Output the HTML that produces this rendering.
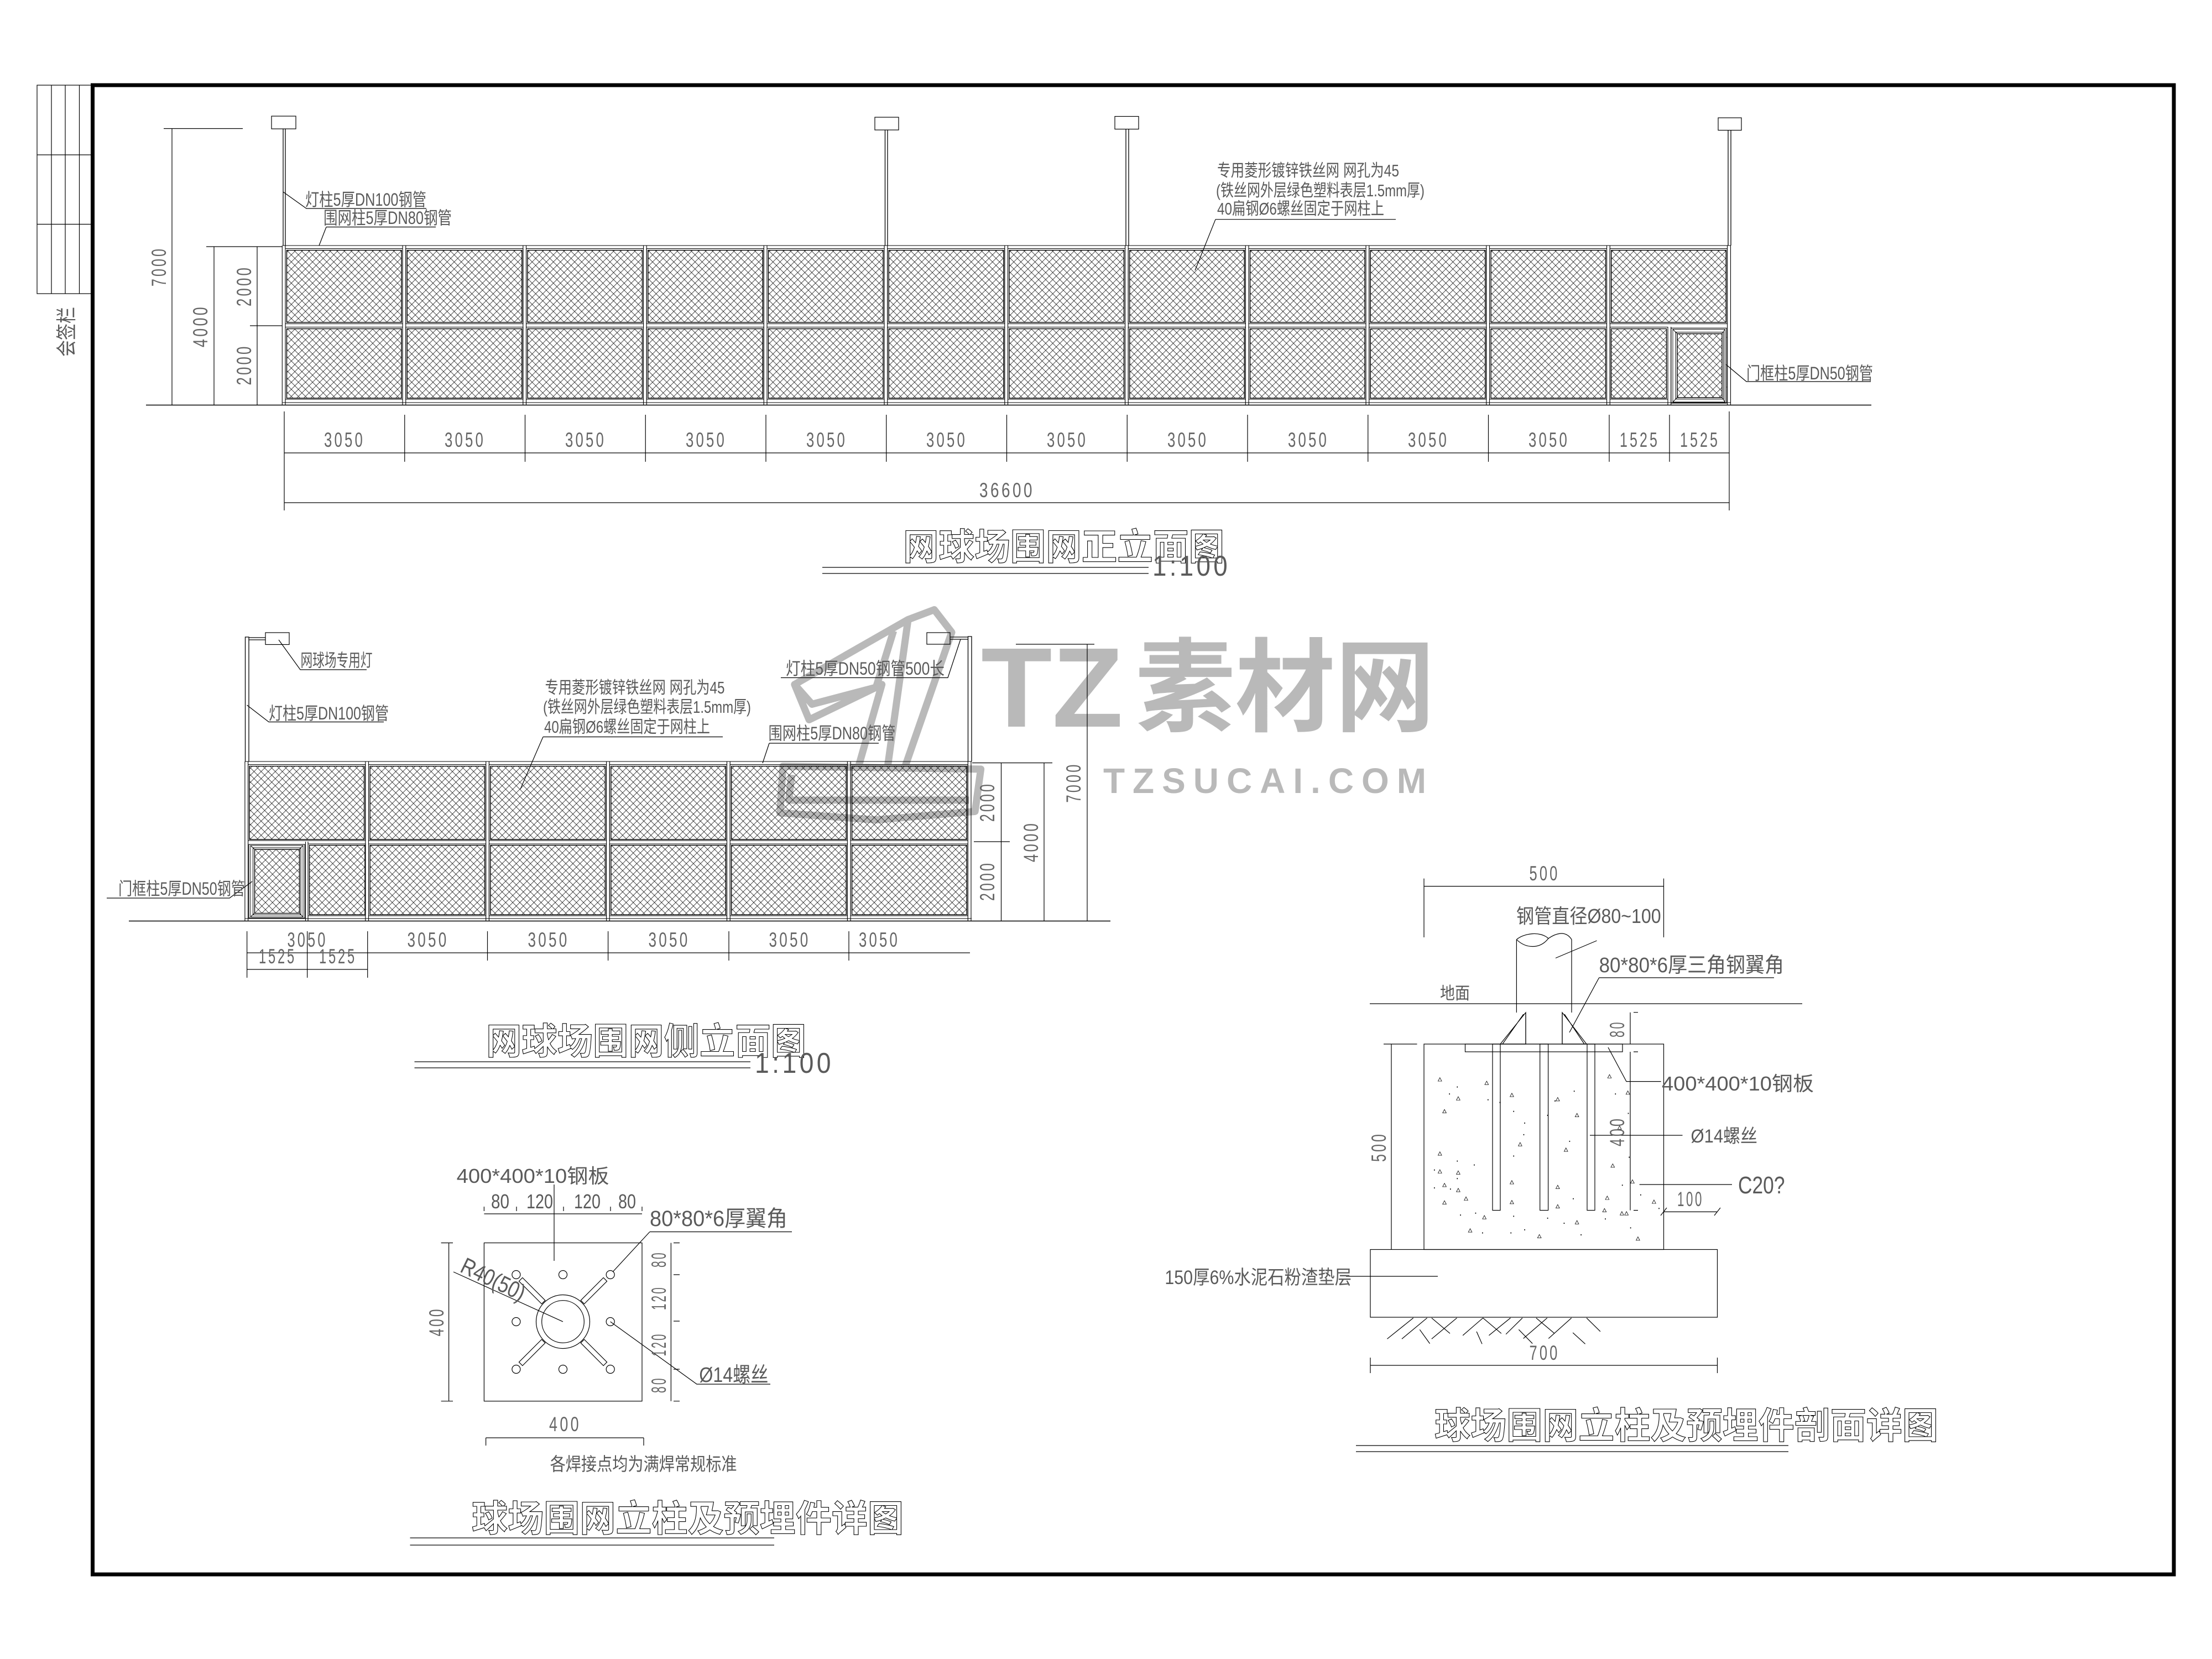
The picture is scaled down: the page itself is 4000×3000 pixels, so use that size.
<!DOCTYPE html>
<html lang="zh"><head><meta charset="utf-8"><title>网球场围网</title>
<style>
html,body{margin:0;padding:0;background:#fff;width:4000px;height:3000px;overflow:hidden}
svg{display:block}
text{font-family:"Liberation Sans","Noto Sans CJK SC",sans-serif;fill:#5a5a5a}
.d{font-size:37px;text-anchor:middle;letter-spacing:6px;fill:#666}
.c{font-size:32px}
.n{font-size:31px}
.ti{font-family:"Noto Sans CJK SC",sans-serif;font-weight:700;fill:#fff;stroke:#000;stroke-width:1.1;font-size:66px}
.wm{fill:#b9b9b9;font-weight:700}
.ne *{vector-effect:non-scaling-stroke}
</style></head><body>
<svg xmlns="http://www.w3.org/2000/svg" width="4000" height="3000" viewBox="0 0 4000 3000">
<defs>
<pattern id="m" patternUnits="userSpaceOnUse" width="12.8" height="12.8"><path d="M0 0L12.8 12.8M12.8 0L0 12.8" stroke="#000" stroke-width=".72" fill="none"/></pattern>
<g id="bt" fill="none" stroke="#000">
<path d="M-3.7 444V733M2 444V733" stroke-width="1.1"/>
<rect x="2" y="449.500" width="212" height="136" stroke-width="1"/>
<rect x="4.500" y="452.500" width="207.500" height="130.500" fill="url(#m)" stroke-width="1.4"/>
</g>
<g id="bl" fill="none" stroke="#000">
<rect x="2" y="591.500" width="212" height="130.500" stroke-width="1"/>
<rect x="4.500" y="594.500" width="207.500" height="125.500" fill="url(#m)" stroke-width="1.4"/>
</g>
<g id="bs" fill="none" stroke="#000">
<path d="M-3.7 1377V1665M2 1377V1665" stroke-width="1.1"/>
<rect x="2" y="1382.500" width="212" height="137.500" stroke-width="1"/>
<rect x="4.500" y="1385.500" width="207.500" height="132.500" fill="url(#m)" stroke-width="1.4"/>
</g>
<g id="bsl" fill="none" stroke="#000">
<rect x="2" y="1526" width="212" height="130" stroke-width="1"/>
<rect x="4.500" y="1528.500" width="207.500" height="125.500" fill="url(#m)" stroke-width="1.4"/>
</g>
<path id="tr" d="M0 -5L4 4L-4 4Z" fill="none" stroke="#000" stroke-width="1"/>
</defs>

<!-- watermark -->
<g>
<text class="wm" x="1774" y="1314" font-size="205" textLength="257" lengthAdjust="spacingAndGlyphs">TZ</text>
<text class="wm" x="2053" y="1308" font-size="184" textLength="542" lengthAdjust="spacingAndGlyphs" style="font-family:'Noto Sans CJK SC',sans-serif">素材网</text>
<text class="wm" x="1995" y="1434" font-size="64" textLength="598" lengthAdjust="spacingAndGlyphs" style="letter-spacing:14px">TZSUCAI.COM</text>
<g transform="translate(1100,1100) scale(1.0526,.5102)" fill="none" stroke="#b9b9b9" stroke-width="13" stroke-linejoin="round" class="ne">
<path d="M320 270L515 40L560 5L590 85L510 560M490 80L460 280L350 340L320 270L345 395L470 270L430 560M515 40L480 560" />
<path d="M300 560L640 570L630 720L460 750L295 725ZM315 590L310 680L620 680"/>
</g>
</g>

<!-- sign bar -->
<g fill="none" stroke="#000" stroke-width="1.2">
<rect x="67" y="154" width="98" height="377"/>
<path d="M93 154V531M118 154V531M143.500 154V531M67 280H165M67 405.500H165"/>
</g>
<text class="c" transform="translate(133,600) rotate(-90)" text-anchor="middle" textLength="90" lengthAdjust="spacingAndGlyphs" style="font-size:37px">会签栏</text>

<!-- border -->
<rect x="167.500" y="154" width="3763.500" height="2693" fill="none" stroke="#000" stroke-width="7"/>

<!-- FRONT ELEVATION -->
<g>
<use href="#bt" x="514"/><use href="#bt" x="731.75"/><use href="#bt" x="949.5"/><use href="#bt" x="1167.25"/><use href="#bt" x="1385"/><use href="#bt" x="1602.75"/><use href="#bt" x="1820.5"/><use href="#bt" x="2038.25"/><use href="#bt" x="2256"/><use href="#bt" x="2473.75"/><use href="#bt" x="2691.5"/><use href="#bt" x="2909.25"/>
<use href="#bl" x="514"/><use href="#bl" x="731.75"/><use href="#bl" x="949.5"/><use href="#bl" x="1167.25"/><use href="#bl" x="1385"/><use href="#bl" x="1602.75"/><use href="#bl" x="1820.5"/><use href="#bl" x="2038.25"/><use href="#bl" x="2256"/><use href="#bl" x="2473.75"/><use href="#bl" x="2691.5"/>
<g fill="none" stroke="#000">
<rect x="2913.500" y="594.500" width="100" height="125.500" fill="url(#m)" stroke-width="1.400"/>
<rect x="2911.500" y="591.500" width="104.500" height="130.500" stroke-width="1"/>
<path d="M3016 591V733M3021.700 591V733" stroke-width="1.100"/>
<rect x="3021.700" y="593.300" width="100.300" height="135.700" stroke-width="1.100"/>
<rect x="3025" y="595.500" width="94.300" height="131.500" stroke-width=".9"/>
<rect x="3030" y="600.700" width="86.700" height="121" stroke-width="1"/>
<rect x="3033" y="603.500" width="81" height="115.500" fill="url(#m)" stroke-width="1.400"/>
<path d="M3025 595.500L3032.700 603M3119.300 595.500L3114 603M3025 727L3032.700 719M3119.300 727L3114 719M3122 610V617M3124 610H3122M3122 700V707M3122 700H3124" stroke-width="1"/>
<path d="M3123.500 444V733M3129.500 444V733" stroke-width="1.100"/>
<path d="M511 444H3130M511 728H3130" stroke-width="1.100"/>
<path d="M264 732.500H3384" stroke-width="1.400"/>
<!-- poles -->
<rect x="491" y="210" width="44" height="23" stroke-width="1.2"/>
<path d="M512 233V444M516 233V444" stroke-width="1.300"/>
<rect x="1582" y="212" width="43" height="23" stroke-width="1.2"/>
<path d="M1600.500 235V444M1605 235V444" stroke-width="1.300"/>
<rect x="2016" y="210.500" width="43" height="23" stroke-width="1.2"/>
<path d="M2036 233V444M2041 233V444" stroke-width="1.300"/>
<rect x="3107" y="213" width="42" height="22.500" stroke-width="1.2"/>
<path d="M3125 235V444M3130 235V444" stroke-width="1.300"/>
<!-- left dims -->
<path d="M296 232.500H439M311 232.500V733M387 446V733M373 446H510M465 446V733M452 589H510" stroke-width="1.200"/>
<!-- bottom dims -->
<path d="M514 819H3127M514 909H3127M514 744V923M3127 744V923M731.750 750V835M949.500 750V835M1167.250 750V835M1385 750V835M1602.750 750V835M1820.500 750V835M2038.250 750V835M2256 750V835M2473.750 750V835M2691.500 750V835M2910 750V835M3019 750V835" stroke-width="1.200"/>
<!-- callouts -->
<path d="M512 347L554 377H771M590 410.500H788M590 410.500L577 444M2198 396.700H2524M2198 396.700L2161 489M3121 659L3158 690H3383" stroke-width="1.200"/>
<path d="M1487 1026H2077M1487 1037H2077" stroke-width="1.200"/>
</g>
<text class="d" transform="translate(300,482) rotate(-90)" textLength="72" lengthAdjust="spacingAndGlyphs">7000</text>
<text class="d" transform="translate(375,589.5) rotate(-90)" textLength="77" lengthAdjust="spacingAndGlyphs">4000</text>
<text class="d" transform="translate(454,517) rotate(-90)" textLength="74" lengthAdjust="spacingAndGlyphs">2000</text>
<text class="d" transform="translate(454,659.5) rotate(-90)" textLength="74" lengthAdjust="spacingAndGlyphs">2000</text>
<text class="d" x="623" y="808" textLength="74" lengthAdjust="spacingAndGlyphs">3050</text><text class="d" x="841" y="808" textLength="74" lengthAdjust="spacingAndGlyphs">3050</text><text class="d" x="1059" y="808" textLength="74" lengthAdjust="spacingAndGlyphs">3050</text><text class="d" x="1277" y="808" textLength="74" lengthAdjust="spacingAndGlyphs">3050</text><text class="d" x="1495" y="808" textLength="74" lengthAdjust="spacingAndGlyphs">3050</text><text class="d" x="1712" y="808" textLength="74" lengthAdjust="spacingAndGlyphs">3050</text><text class="d" x="1930" y="808" textLength="74" lengthAdjust="spacingAndGlyphs">3050</text><text class="d" x="2148" y="808" textLength="74" lengthAdjust="spacingAndGlyphs">3050</text><text class="d" x="2366" y="808" textLength="74" lengthAdjust="spacingAndGlyphs">3050</text><text class="d" x="2583" y="808" textLength="74" lengthAdjust="spacingAndGlyphs">3050</text><text class="d" x="2801" y="808" textLength="74" lengthAdjust="spacingAndGlyphs">3050</text>
<text class="d" x="2965" y="808" textLength="72" lengthAdjust="spacingAndGlyphs">1525</text><text class="d" x="3074" y="808" textLength="72" lengthAdjust="spacingAndGlyphs">1525</text>
<text class="d" x="1821" y="899" textLength="100" lengthAdjust="spacingAndGlyphs">36600</text>
<text class="c" x="552" y="372" textLength="219" lengthAdjust="spacingAndGlyphs">灯柱5厚DN100钢管</text>
<text class="c" x="585" y="405" textLength="232" lengthAdjust="spacingAndGlyphs">围网柱5厚DN80钢管</text>
<text class="n" x="2201" y="319" textLength="329" lengthAdjust="spacingAndGlyphs">专用菱形镀锌铁丝网 网孔为45</text>
<text class="n" x="2199" y="355" textLength="377" lengthAdjust="spacingAndGlyphs">(铁丝网外层绿色塑料表层1.5mm厚)</text>
<text class="n" x="2201" y="388" textLength="302" lengthAdjust="spacingAndGlyphs">40扁钢Ø6螺丝固定于网柱上</text>
<text class="c" x="3158" y="686" textLength="229" lengthAdjust="spacingAndGlyphs">门框柱5厚DN50钢管</text>
<text class="ti" x="1633" y="1012" textLength="581" lengthAdjust="spacingAndGlyphs">网球场围网正立面图</text>
<text x="2084" y="1041" font-size="52" textLength="141" lengthAdjust="spacingAndGlyphs" style="letter-spacing:6px">1:100</text>
</g>

<!-- SIDE ELEVATION -->
<g>
<use href="#bs" x="446.6"/><use href="#bs" x="664.5"/><use href="#bs" x="882.4"/><use href="#bs" x="1100.3"/><use href="#bs" x="1318.2"/><use href="#bs" x="1536.1"/>
<use href="#bsl" x="664.5"/><use href="#bsl" x="882.4"/><use href="#bsl" x="1100.3"/><use href="#bsl" x="1318.2"/><use href="#bsl" x="1536.1"/>
<g fill="none" stroke="#000">
<rect x="559.500" y="1528.500" width="100.500" height="125.500" fill="url(#m)" stroke-width="1.400"/>
<rect x="557" y="1526" width="104" height="130" stroke-width="1"/>
<rect x="450" y="1527" width="101" height="133" stroke-width="1.100"/>
<rect x="453" y="1529" width="95" height="129" stroke-width=".9"/>
<rect x="457.500" y="1533" width="86.500" height="121.500" stroke-width="1"/>
<rect x="460.500" y="1536" width="81" height="115.500" fill="url(#m)" stroke-width="1.400"/>
<path d="M453 1529L460 1535.500M548 1529L541.500 1535.500M453 1658L460 1651.500M548 1658L541.500 1651.500" stroke-width="1"/>
<path d="M552.500 1522V1665M557 1522V1665" stroke-width="1.100"/>
<path d="M1750.300 1377V1665M1756 1377V1665" stroke-width="1.100"/>
<path d="M443 1377H1757M443 1661H1757" stroke-width="1.100"/>
<path d="M233 1665.500H2008" stroke-width="1.400"/>
<!-- lights -->
<path d="M443.500 1377V1152H450V1377M450 1153H480M450 1157H480" stroke-width="1.300"/>
<rect x="480" y="1144" width="43" height="21.500" stroke-width="1.2"/>
<path d="M1750.500 1377V1151H1757V1377M1718 1152H1750M1718 1156H1750" stroke-width="1.300"/>
<rect x="1676" y="1144" width="42" height="21" stroke-width="1.2"/>
<!-- dims right -->
<path d="M1758 1379.500H1903M1761 1522H1826M1810.500 1379.500V1665M1888 1379.500V1665M1966 1165V1665M1837 1165H1979" stroke-width="1.200"/>
<!-- dims bottom -->
<path d="M446.600 1723H1754M446.600 1753H664.700M446.600 1684V1768M555.600 1684V1768M664.700 1684V1768M881.500 1684V1737M1099.600 1684V1737M1318 1684V1737M1535 1684V1737" stroke-width="1.200"/>
<!-- callouts -->
<path d="M504 1157L543 1211H663M446.500 1275L486 1305.500H694M982 1332.500H1307M982 1332.500L941 1427M1412 1225.500H1714L1737 1156M1391 1344H1589M1391 1344L1379 1380M193 1624H415L456 1594" stroke-width="1.200"/>
<path d="M749.500 1920H1357M749.500 1931H1357" stroke-width="1.200"/>
</g>
<text class="d" transform="translate(1798,1450) rotate(-90)" textLength="72" lengthAdjust="spacingAndGlyphs">2000</text>
<text class="d" transform="translate(1798,1593) rotate(-90)" textLength="72" lengthAdjust="spacingAndGlyphs">2000</text>
<text class="d" transform="translate(1877,1522) rotate(-90)" textLength="74" lengthAdjust="spacingAndGlyphs">4000</text>
<text class="d" transform="translate(1954,1415) rotate(-90)" textLength="73" lengthAdjust="spacingAndGlyphs">7000</text>
<text class="d" x="556" y="1712" textLength="73" lengthAdjust="spacingAndGlyphs">3050</text><text class="d" x="774" y="1712" textLength="75" lengthAdjust="spacingAndGlyphs">3050</text><text class="d" x="992" y="1712" textLength="75" lengthAdjust="spacingAndGlyphs">3050</text><text class="d" x="1210" y="1712" textLength="75" lengthAdjust="spacingAndGlyphs">3050</text><text class="d" x="1428" y="1712" textLength="75" lengthAdjust="spacingAndGlyphs">3050</text><text class="d" x="1590" y="1712" textLength="74" lengthAdjust="spacingAndGlyphs">3050</text>
<text class="d" x="502" y="1742" textLength="68" lengthAdjust="spacingAndGlyphs">1525</text><text class="d" x="611" y="1742" textLength="68" lengthAdjust="spacingAndGlyphs">1525</text>
<text class="c" x="543.5" y="1205" textLength="130" lengthAdjust="spacingAndGlyphs">网球场专用灯</text>
<text class="c" x="486" y="1301" textLength="217" lengthAdjust="spacingAndGlyphs">灯柱5厚DN100钢管</text>
<text class="n" x="985.5" y="1254" textLength="325" lengthAdjust="spacingAndGlyphs">专用菱形镀锌铁丝网 网孔为45</text>
<text class="n" x="982" y="1289" textLength="376" lengthAdjust="spacingAndGlyphs">(铁丝网外层绿色塑料表层1.5mm厚)</text>
<text class="n" x="984" y="1325" textLength="300" lengthAdjust="spacingAndGlyphs">40扁钢Ø6螺丝固定于网柱上</text>
<text class="c" x="1421" y="1220" textLength="287" lengthAdjust="spacingAndGlyphs">灯柱5厚DN50钢管500长</text>
<text class="c" x="1389.5" y="1337" textLength="230" lengthAdjust="spacingAndGlyphs">围网柱5厚DN80钢管</text>
<text class="c" x="214" y="1618" textLength="229" lengthAdjust="spacingAndGlyphs">门框柱5厚DN50钢管</text>
<text class="ti" x="879" y="1906" textLength="579" lengthAdjust="spacingAndGlyphs">网球场围网侧立面图</text>
<text x="1365" y="1940" font-size="52" textLength="143" lengthAdjust="spacingAndGlyphs" style="letter-spacing:6px">1:100</text>
</g>

<!-- PLAN DETAIL -->
<g fill="none" stroke="#000" stroke-width="1.2">
<rect x="875.400" y="2247.500" width="285.600" height="286.200"/>
<path d="M875.400 2195H1161M875.400 2182V2190M934 2182V2190M1019 2182V2190M1104 2182V2190M1161 2182V2190M1002 2142V2280"/>
<path d="M811.600 2247.500V2533.700M797.600 2247.500H819M797.600 2533.700H819M1213.400 2247.500V2533.700M1218 2247.500H1229M1218 2305H1229M1218 2389H1229M1218 2476H1229M1218 2533.700H1229"/>
<circle cx="1018" cy="2390" r="48.500"/><circle cx="1018" cy="2390" r="38.300"/>
<circle cx="933.400" cy="2305" r="7.500"/><circle cx="1018" cy="2305" r="7.500"/><circle cx="1103.700" cy="2305" r="7.500"/><circle cx="933.400" cy="2390" r="7.500"/><circle cx="1103.700" cy="2390" r="7.500"/><circle cx="933.400" cy="2476" r="7.500"/><circle cx="1018" cy="2476" r="7.500"/><circle cx="1103.700" cy="2476" r="7.500"/>
<g transform="translate(1018,2390)"><rect x="50" y="-4.500" width="58" height="9" transform="rotate(-45)"/><rect x="50" y="-4.500" width="58" height="9" transform="rotate(-135)"/><rect x="50" y="-4.500" width="58" height="9" transform="rotate(45)"/><rect x="50" y="-4.500" width="58" height="9" transform="rotate(135)"/></g>
<path d="M820 2300L1018 2390M1175 2227.500H1432M1175 2227.500L1108 2300M1260 2503H1393L1260 2503L1103.700 2390"/>
<path d="M878.600 2600H1164M878.600 2600V2614M1164 2600V2614"/>
<path d="M741.500 2781H1400M741.500 2794H1400"/>
</g>
<g>
<text x="825.600" y="2139" font-size="36" textLength="276" lengthAdjust="spacingAndGlyphs">400*400*10钢板</text>
<text x="888" y="2185" font-size="36" textLength="33" lengthAdjust="spacingAndGlyphs">80</text><text x="952" y="2185" font-size="36" textLength="48" lengthAdjust="spacingAndGlyphs">120</text><text x="1038" y="2185" font-size="36" textLength="48" lengthAdjust="spacingAndGlyphs">120</text><text x="1118" y="2185" font-size="36" textLength="32" lengthAdjust="spacingAndGlyphs">80</text>
<text class="d" transform="translate(802,2390) rotate(-90)" textLength="53" lengthAdjust="spacingAndGlyphs">400</text>
<text class="d" transform="translate(1204,2277) rotate(-90)" textLength="30" lengthAdjust="spacingAndGlyphs">80</text>
<text class="d" transform="translate(1204,2347) rotate(-90)" textLength="44" lengthAdjust="spacingAndGlyphs">120</text>
<text class="d" transform="translate(1204,2431) rotate(-90)" textLength="43" lengthAdjust="spacingAndGlyphs">120</text>
<text class="d" transform="translate(1204,2504) rotate(-90)" textLength="30" lengthAdjust="spacingAndGlyphs">80</text>
<text transform="translate(830,2299) rotate(26)" font-size="42" textLength="124" lengthAdjust="spacingAndGlyphs">R40(50)</text>
<text x="1175" y="2217" font-size="40" textLength="249" lengthAdjust="spacingAndGlyphs">80*80*6厚翼角</text>
<text x="1264.400" y="2499" font-size="38" textLength="125" lengthAdjust="spacingAndGlyphs">Ø14螺丝</text>
<text class="d" x="1022" y="2588" textLength="58" lengthAdjust="spacingAndGlyphs">400</text>
<text x="994.600" y="2659" font-size="33" textLength="338" lengthAdjust="spacingAndGlyphs">各焊接点均为满焊常规标准</text>
<text class="ti" x="853" y="2769" textLength="781" lengthAdjust="spacingAndGlyphs">球场围网立柱及预埋件详图</text>
</g>

<!-- SECTION DETAIL -->
<g fill="none" stroke="#000" stroke-width="1.2">
<path d="M2575 1602.600H3008.500M2575 1588.600V1695M3008.500 1588.600V1695"/>
<path d="M2742.400 1699V1831M2842 1699V1831M2759 1831V1888M2825 1831V1888"/>
<path d="M2742.400 1699C2755 1688 2785 1683 2800 1697C2810 1690 2830 1680 2842 1699M2742.400 1699C2760 1716 2785 1716 2800 1697"/>
<path d="M2813 1732.500L2887.500 1701M2891.600 1768H3208M2891.600 1768L2838 1867"/>
<path d="M2477 1815H3259"/>
<path d="M2759 1831L2713 1888H2759ZM2755 1834L2717 1888M2825 1831L2869 1888H2825ZM2829 1834L2865 1888"/>
<rect x="2575" y="1888" width="433.500" height="371.500"/>
<rect x="2649.500" y="1888" width="284.500" height="14"/>
<rect x="2699" y="1888" width="14" height="300.600"/><rect x="2784.700" y="1888" width="14.900" height="300.600"/><rect x="2870" y="1888" width="14" height="300.600"/>
<path d="M2516 1888V2259.500M2502 1888H2562.500M2948 1830.700V1888M2948 1902V2188.600M2954 1830.700H2962M2954 1902H2962M2954 2188.600H2962"/>
<path d="M2908 1894L2941 1955.600H3003.600M2875 2053H3042.500M2964.600 2142H3132M3008.500 2191.400H3105M3003 2198L3014 2184M3100 2198L3111 2184"/>
<rect x="2478" y="2259.500" width="627.500" height="122.500"/>
<path d="M2434 2308H2600"/>
<path d="M2478 2469H3105.500M2478 2455V2483M3105.500 2455V2483"/>
<path d="M2452 2614H3234M2452 2625H3234"/>
<g class="ne" transform="translate(2050,1550) scale(.829,.702)">
<path d="M610 1187L553 1241M640 1187L585 1241M624 1217L646 1253M650 1187L690 1227M705 1187L650 1241M748 1222L760 1254M762 1187L718 1232M762 1187L802 1227M822 1187L775 1232M848 1187L812 1229M840 1217L870 1253M878 1187L918 1227M902 1187L850 1240M955 1187L905 1240M958 1225L985 1254M988 1187L1018 1222"/>
<use href="#tr" x="668" y="573"/><use href="#tr" x="770" y="582"/><use href="#tr" x="708" y="622"/><use href="#tr" x="678" y="655"/><use href="#tr" x="825" y="613"/><use href="#tr" x="925" y="624"/><use href="#tr" x="967" y="665"/><use href="#tr" x="1038" y="565"/><use href="#tr" x="1078" y="607"/><use href="#tr" x="843" y="740"/><use href="#tr" x="943" y="754"/><use href="#tr" x="668" y="764"/><use href="#tr" x="668" y="810"/><use href="#tr" x="708" y="813"/><use href="#tr" x="678" y="845"/><use href="#tr" x="708" y="858"/><use href="#tr" x="725" y="880"/><use href="#tr" x="678" y="890"/><use href="#tr" x="825" y="838"/><use href="#tr" x="925" y="850"/><use href="#tr" x="825" y="889"/><use href="#tr" x="925" y="900"/><use href="#tr" x="1045" y="795"/><use href="#tr" x="1060" y="697"/><use href="#tr" x="1088" y="836"/><use href="#tr" x="1033" y="878"/><use href="#tr" x="1135" y="888"/><use href="#tr" x="1027" y="910"/><use href="#tr" x="1065" y="918"/><use href="#tr" x="1075" y="918"/><use href="#tr" x="765" y="928"/><use href="#tr" x="734" y="962"/><use href="#tr" x="967" y="941"/><use href="#tr" x="885" y="977"/><use href="#tr" x="1100" y="983"/>
<path stroke-width="2" d="M705 592h2M688 610h2M772 625h2M798 632h2M828 655h2M852 685h2M902 665h2M918 628h2M960 603h2M1050 610h2M850 715h2M950 732h2M828 770h2M705 783h2M742 793h2M655 806h2M705 828h2M655 852h2M690 855h2M712 922h2M745 917h2M828 925h2M902 930h2M938 943h2M1080 773h2M1078 660h2M1065 845h2M1028 932h2M1083 955h2M852 960h2M760 968h2M822 968h2M975 973h2M958 880h2M1105 870h2M1145 905h2"/>
</g>
</g>
<g>
<text class="d" x="2793" y="1592" textLength="55" lengthAdjust="spacingAndGlyphs">500</text>
<text x="2742" y="1669" font-size="36" textLength="261.600" lengthAdjust="spacingAndGlyphs">钢管直径Ø80~100</text>
<text x="2891.600" y="1758" font-size="38" textLength="334.400" lengthAdjust="spacingAndGlyphs">80*80*6厚三角钢翼角</text>
<text x="2604" y="1807" font-size="31" textLength="54" lengthAdjust="spacingAndGlyphs">地面</text>
<text class="d" transform="translate(2506,2074) rotate(-90)" textLength="54" lengthAdjust="spacingAndGlyphs">500</text>
<text class="d" transform="translate(2937,1860.500) rotate(-90)" textLength="31" lengthAdjust="spacingAndGlyphs">80</text>
<text class="d" transform="translate(2937,2046) rotate(-90)" textLength="54" lengthAdjust="spacingAndGlyphs">400</text>
<text x="3005" y="1972" font-size="36" textLength="275" lengthAdjust="spacingAndGlyphs">400*400*10钢板</text>
<text x="3057.500" y="2066" font-size="34" textLength="120.500" lengthAdjust="spacingAndGlyphs">Ø14螺丝</text>
<text x="3143" y="2158" font-size="44" textLength="84.500" lengthAdjust="spacingAndGlyphs">C20?</text>
<text class="d" x="3057" y="2181" textLength="48" lengthAdjust="spacingAndGlyphs">100</text>
<text x="2106.400" y="2322" font-size="35" textLength="337.600" lengthAdjust="spacingAndGlyphs">150厚6%水泥石粉渣垫层</text>
<text class="d" x="2793" y="2459" textLength="55" lengthAdjust="spacingAndGlyphs">700</text>
<text class="ti" x="2594" y="2601" textLength="911" lengthAdjust="spacingAndGlyphs">球场围网立柱及预埋件剖面详图</text>
</g>
</svg>
</body></html>
